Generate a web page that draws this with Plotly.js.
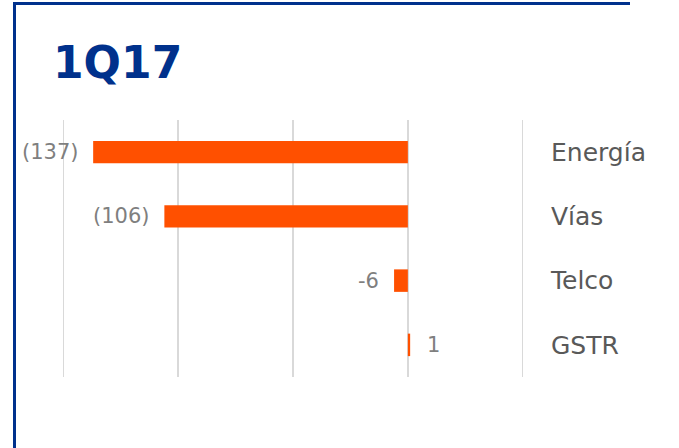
<!DOCTYPE html>
<html>
<head>
<meta charset="utf-8">
<script src="https://cdn.plot.ly/plotly-3.0.1.min.js"></script>
<style>
html,body{margin:0;padding:0;background:#fff;}
#wrap{position:relative;width:679px;height:448px;overflow:hidden;}
#frame{position:absolute;left:13px;top:2px;width:614px;height:460px;border-top:3px solid #00318C;border-left:3px solid #00318C;pointer-events:none;}
#chart{position:absolute;left:0;top:0;width:679px;height:448px;}
</style>
</head>
<body>
<div id="wrap">
<div id="chart"></div>
<div id="frame"></div>
</div>
<script>
const categories = ["Energía", "Vías", "Telco", "GSTR"];
const values = [-137, -106, -6, 1];
const valueLabels = ["(137)", "(106)", "-6", "1"];
const titleText = "1Q17";

const trace = {
  type: "bar",
  orientation: "h",
  y: categories,
  x: values,
  marker: {color: "#FF5000"},
  width: 0.35,
  hoverinfo: "none"
};

const annotations = categories.map((c, i) => ({
  x: values[i], y: c, xref: "x", yref: "y",
  text: valueLabels[i],
  showarrow: false,
  xanchor: values[i] < 0 ? "right" : "left",
  xshift: values[i] < 0 ? -13 : 15,
  font: {family: "DejaVu Sans", size: 21, color: "#7F7F7F"}
}));

const layout = {
  width: 679, height: 448,
  margin: {l: 61, r: 154, t: 120, b: 71, pad: 0},
  paper_bgcolor: "rgba(0,0,0,0)",
  plot_bgcolor: "rgba(0,0,0,0)",
  showlegend: false,
  annotations: annotations,
  title: {
    text: "<b>" + titleText + "</b>",
    font: {family: "DejaVu Sans", size: 44, color: "#00318C"},
    xref: "container", yref: "container",
    x: 53/679, xanchor: "left",
    y: 1 - 47/448, yanchor: "top"
  },
  xaxis: {
    range: [-151, 51],
    dtick: 50,
    tick0: 0,
    showgrid: true,
    gridcolor: "#D9D9D9",
    gridwidth: 1.5,
    zeroline: true,
    zerolinecolor: "#D9D9D9",
    zerolinewidth: 1.5,
    showticklabels: false,
    ticks: "",
    fixedrange: true
  },
  yaxis: {
    categoryorder: "array",
    categoryarray: categories.slice().reverse(),
    side: "right",
    ticks: "",
    ticklabelstandoff: 25,
    tickfont: {family: "DejaVu Sans", size: 25, color: "#595959"},
    showgrid: false,
    zeroline: false,
    showline: false,
    fixedrange: true
  },
  font: {family: "DejaVu Sans"}
};

Plotly.newPlot("chart", [trace], layout, {displayModeBar: false, staticPlot: true});
</script>
</body>
</html>
